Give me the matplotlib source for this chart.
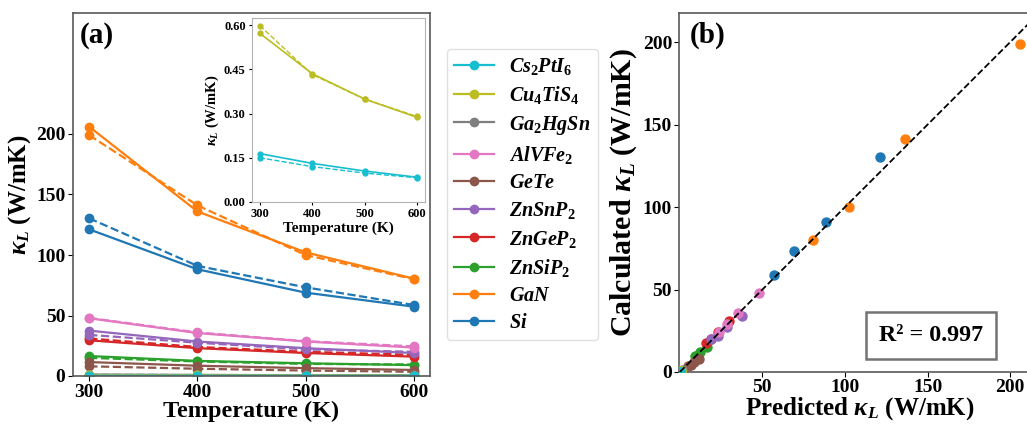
import numpy as np
import matplotlib
matplotlib.use("Agg")
import matplotlib.pyplot as plt

plt.rcParams['font.family'] = ['Liberation Serif', 'DejaVu Serif']
plt.rcParams['font.weight'] = 'bold'
plt.rcParams['axes.labelweight'] = 'bold'
plt.rcParams['mathtext.fontset'] = 'custom'
plt.rcParams['mathtext.rm'] = 'Liberation Serif:bold'
plt.rcParams['mathtext.it'] = 'Liberation Serif:italic:bold'
plt.rcParams['mathtext.bf'] = 'Liberation Serif:bold'

# temperatures (K)
T = [300, 400, 500, 600]

# materials in plotting order (tab10 colours C0..C9)
names = ['Si', 'GaN', 'ZnSiP2', 'ZnGeP2', 'ZnSnP2', 'GeTe', 'AlVFe2',
         'Ga2HgSn', 'Cu4TiS4', 'Cs2PtI6']
labels = ['$Si$', '$GaN$', '$ZnSiP_2$', '$ZnGeP_2$', '$ZnSnP_2$', '$GeTe$',
          '$AlVFe_2$', '$Ga_2HgSn$', '$Cu_4TiS_4$', '$Cs_2PtI_6$']

# predicted kappa_L (solid)
pred_si = [121.2, 88.2, 68.9, 57.3]
pred_gan = [206.0, 136.0, 102.2, 80.5]
pred_znsip2 = [16.5, 12.5, 10.5, 9.0]
pred_zngep2 = [29.5, 23.0, 19.0, 16.0]
pred_znsnp2 = [37.5, 28.5, 23.0, 19.0]
pred_gete = [11.5, 8.5, 6.5, 5.0]
pred_alvfe2 = [47.7, 35.5, 28.5, 23.5]
pred_ga2hgsn = [1.2, 0.9, 0.7, 0.6]
pred_cu4tis4 = [0.572, 0.435, 0.349, 0.287]
pred_cs2pti6 = [0.164, 0.131, 0.105, 0.084]

# calculated kappa_L (dashed)
calc_si = [130.3, 91.0, 73.3, 58.7]
calc_gan = [199.0, 141.0, 100.0, 80.0]
calc_znsip2 = [15.0, 12.0, 10.0, 9.5]
calc_zngep2 = [31.0, 24.0, 20.0, 17.5]
calc_znsnp2 = [34.0, 27.5, 22.0, 20.0]
calc_gete = [8.0, 6.0, 4.5, 3.5]
calc_alvfe2 = [48.0, 36.0, 28.8, 24.5]
calc_ga2hgsn = [1.0, 0.8, 0.65, 0.55]
calc_cu4tis4 = [0.598, 0.432, 0.349, 0.290]
calc_cs2pti6 = [0.150, 0.120, 0.098, 0.082]

pred = [pred_si, pred_gan, pred_znsip2, pred_zngep2, pred_znsnp2, pred_gete,
        pred_alvfe2, pred_ga2hgsn, pred_cu4tis4, pred_cs2pti6]
calc = [calc_si, calc_gan, calc_znsip2, calc_zngep2, calc_znsnp2, calc_gete,
        calc_alvfe2, calc_ga2hgsn, calc_cu4tis4, calc_cs2pti6]
colors = ['tab:blue', 'tab:orange', 'tab:green', 'tab:red', 'tab:purple',
          'tab:brown', 'tab:pink', 'tab:gray', 'tab:olive', 'tab:cyan']

W, H = 1027, 424
fig = plt.figure(figsize=(W / 100, H / 100), dpi=100)

def box(l, t, r, b):
    return [l / W, 1 - b / H, (r - l) / W, (b - t) / H]

spine_c = '0.35'

# ---- panel (a)
ax = fig.add_axes(box(73, 13, 430, 376))
handles = []
for p, c, col, lab in zip(pred, calc, colors, labels):
    h, = ax.plot(T, p, '-o', color=col, lw=1.6, ms=6, label=lab)
    ax.plot(T, c, '--o', color=col, lw=1.6, ms=6)
    handles.append(h)
ax.set_ylim(0, 300)
ax.set_yticks([0, 50, 100, 150, 200])
ax.set_xticks(T)
ax.tick_params(labelsize=14, pad=2)
ax.set_xlabel('Temperature (K)', fontsize=17.5, labelpad=0)
ax.set_ylabel(r'$\kappa_L$ (W/mK)', fontsize=18, labelpad=2)
ax.text(0.02, 0.975, '(a)', transform=ax.transAxes, fontsize=21,
        fontweight='bold', va='top', ha='left')
for s in ax.spines.values():
    s.set_color(spine_c)
    s.set_linewidth(1.2)

# inset
ins = fig.add_axes(box(252, 18, 425, 202))
for k in (8, 9):
    ins.plot(T, pred[k], '-o', color=colors[k], lw=1.2, ms=3.5)
    ins.plot(T, calc[k], '--o', color=colors[k], lw=1.0, ms=3.5)
ins.set_ylim(0, 0.624)
ins.set_yticks([0.0, 0.15, 0.30, 0.45, 0.60])
ins.set_yticklabels(['0.00', '0.15', '0.30', '0.45', '0.60'])
ins.set_xticks(T)
ins.tick_params(labelsize=9, length=2.5, pad=2)
ins.set_xlabel('Temperature (K)', fontsize=11, labelpad=1)
ins.set_ylabel(r'$\kappa_L$ (W/mK)', fontsize=10.5, labelpad=2)
for s in ins.spines.values():
    s.set_color('0.7')

leg = fig.legend(handles[::-1], labels[::-1], loc='upper left',
                 bbox_to_anchor=(447 / W, 1 - 49 / H), fontsize=14.5,
                 labelspacing=0.36, handlelength=2.0, handletextpad=0.75,
                 borderpad=0.35, borderaxespad=0,
                 frameon=True, fancybox=True)
leg.get_frame().set_edgecolor('0.85')

# ---- panel (b)
bx = fig.add_axes(box(679, 13, 1040, 372))
for p, c, col in zip(pred, calc, colors):
    bx.scatter(p, c, s=42, color=col, zorder=3)
bx.plot([0, 218], [0, 218], '--', color='black', lw=1.3, zorder=4)
bx.set_xlim(-0.5, 218)
bx.set_ylim(0, 217.6)
bx.set_xticks([50, 100, 150, 200])
bx.set_yticks([0, 50, 100, 150, 200])
bx.tick_params(labelsize=14, pad=1.5)
bx.set_xlabel(r'Predicted $\kappa_L$ (W/mK)', fontsize=18, labelpad=-0.5)
bx.set_ylabel(r'Calculated $\kappa_L$ (W/mK)', fontsize=21.5, labelpad=3)
bx.text(0.03, 0.975, '(b)', transform=bx.transAxes, fontsize=21,
        fontweight='bold', va='top', ha='left')
bx.text(0.698, 0.102, 'R² = 0.997', transform=bx.transAxes, fontsize=17.3,
        fontweight='bold', ha='center', va='center',
        bbox=dict(boxstyle='square,pad=0.55', fc='white', ec='0.45', lw=1.8))
for s in bx.spines.values():
    s.set_color(spine_c)
    s.set_linewidth(1.2)

fig.savefig('out.png', dpi=100)
